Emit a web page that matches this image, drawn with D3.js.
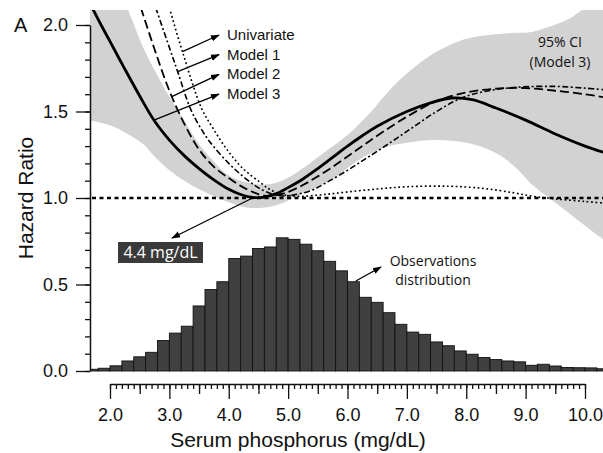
<!DOCTYPE html>
<html>
<head>
<meta charset="utf-8">
<script src="https://cdn.jsdelivr.net/npm/d3@7"></script>
<style>
body { margin: 0; background: #fff; }
svg text { font-family: "Liberation Sans", Arial, sans-serif; fill: #111; }
svg text.note { font-family: "Open Sans", sans-serif; }
</style>
</head>
<body>
<svg width="603" height="453"></svg>
<script>
// observations histogram: bin left edges (mg/dL) and bar height on the HR scale
var binLo = [1.6, 1.8, 2.0, 2.2, 2.4, 2.6, 2.8, 3.0, 3.2, 3.4, 3.6, 3.8, 4.0, 4.2, 4.4,
             4.6, 4.8, 5.0, 5.2, 5.4, 5.6, 5.8, 6.0, 6.2, 6.4, 6.6, 6.8, 7.0, 7.2, 7.4,
             7.6, 7.8, 8.0, 8.2, 8.4, 8.6, 8.8, 9.0, 9.2, 9.4, 9.6, 9.8, 10.0, 10.2];
var binH  = [0.010, 0.016, 0.030, 0.058, 0.082, 0.108, 0.176, 0.219, 0.259, 0.376, 0.471, 0.516,
             0.650, 0.664, 0.708, 0.717, 0.770, 0.761, 0.733, 0.695, 0.634, 0.579, 0.516, 0.426,
             0.397, 0.337, 0.270, 0.225, 0.212, 0.168, 0.146, 0.116, 0.097, 0.078, 0.066, 0.058,
             0.053, 0.033, 0.039, 0.029, 0.020, 0.019, 0.018, 0.013];
var binW = 0.2;

// Model 3 (solid)
var m3X  = [1.70, 1.85, 2.00, 2.25, 2.50, 2.75, 3.00, 3.25, 3.50, 3.75, 4.00, 4.20, 4.40, 4.60, 4.80,
            5.00, 5.25, 5.50, 5.75, 6.00, 6.25, 6.50, 7.00, 7.40, 7.75, 8.10, 8.50, 9.00, 9.50, 10.00, 10.35];
var m3HR = [2.10, 2.00, 1.905, 1.745, 1.59, 1.445, 1.335, 1.245, 1.17, 1.105, 1.05, 1.02, 1.003, 1.005, 1.025,
            1.06, 1.11, 1.17, 1.235, 1.30, 1.36, 1.415, 1.50, 1.55, 1.578, 1.568, 1.52, 1.45, 1.37, 1.30, 1.26];

// Model 2 (long dashes)
var m2X  = [2.52, 2.75, 3.00, 3.25, 3.50, 3.75, 4.00, 4.20, 4.40, 4.60, 4.80, 5.00, 5.25, 5.50, 5.75,
            6.00, 6.25, 6.50, 7.00, 7.50, 8.00, 8.50, 9.00, 9.50, 10.00, 10.35];
var m2HR = [2.10, 1.86, 1.62, 1.43, 1.28, 1.18, 1.115, 1.07, 1.035, 1.013, 1.015, 1.035, 1.075, 1.125, 1.18,
            1.24, 1.30, 1.36, 1.47, 1.56, 1.61, 1.632, 1.635, 1.62, 1.60, 1.58];

// Model 1 (dash-dot)
var m1X  = [2.77, 3.00, 3.14, 3.35, 3.50, 3.68, 4.00, 4.24, 4.45, 4.64, 4.90, 5.10, 5.40, 5.65, 6.00,
            6.25, 6.50, 7.00, 7.50, 7.90, 8.30, 8.85, 9.50, 10.00, 10.35];
var m1HR = [2.10, 1.87, 1.73, 1.52, 1.42, 1.325, 1.20, 1.125, 1.07, 1.035, 1.012, 1.018, 1.045, 1.09, 1.16,
            1.215, 1.27, 1.385, 1.50, 1.575, 1.615, 1.64, 1.645, 1.635, 1.625];

// Univariate (dotted)
var uvX  = [3.00, 3.22, 3.54, 3.74, 3.97, 4.24, 4.53, 4.69, 4.91, 5.20, 5.60, 6.00, 6.50, 7.00, 7.70,
            8.30, 8.80, 9.12, 9.50, 10.00, 10.35];
var uvHR = [2.10, 1.846, 1.52, 1.40, 1.28, 1.17, 1.09, 1.05, 1.02, 1.01, 1.02, 1.035, 1.052, 1.065, 1.068,
            1.055, 1.03, 1.01, 0.995, 0.98, 0.97];

// 95% CI of Model 3
var ciX  = [1.66, 2.00, 2.30, 2.56, 2.75, 3.00, 3.25, 3.50, 3.75, 4.00, 4.30, 4.60, 4.90, 5.20, 5.50,
            5.80, 6.10, 6.40, 6.70, 7.00, 7.50, 8.00, 8.30, 8.60, 8.85, 9.10, 9.40, 9.70, 10.00, 10.35];
var ciHi = [2.55, 2.32, 2.09, 1.87, 1.74, 1.585, 1.45, 1.31, 1.21, 1.13, 1.09, 1.078, 1.10, 1.16, 1.235,
            1.31, 1.395, 1.50, 1.62, 1.72, 1.845, 1.92, 1.94, 1.95, 1.955, 1.96, 1.99, 2.03, 2.10, 2.20];
var ciLo = [1.45, 1.42, 1.37, 1.31, 1.24, 1.16, 1.10, 1.05, 1.01, 0.975, 0.945, 0.945, 0.97, 1.02, 1.065,
            1.12, 1.20, 1.26, 1.30, 1.32, 1.335, 1.32, 1.29, 1.24, 1.17, 1.08, 1.00, 0.92, 0.84, 0.75];

var xTicks = [2, 3, 4, 5, 6, 7, 8, 9, 10];
var xHalf = [2.5, 3.5, 4.5, 5.5, 6.5, 7.5, 8.5, 9.5];
var yTicks = [0, 0.5, 1, 1.5, 2];

var svg = d3.select("svg");
var x = d3.scaleLinear().domain([2, 10]).range([110, 585]);
var y = d3.scaleLinear().domain([0, 2]).range([371, 25]);
var plotL = 90, plotT = 10, plotR = 603;

var defs = svg.append("defs");
defs.append("clipPath").attr("id", "plot")
    .append("rect").attr("x", plotL).attr("y", plotT)
    .attr("width", plotR - plotL).attr("height", y(0) - plotT + 1);
defs.append("marker").attr("id", "ah")
    .attr("viewBox", "0 0 10 10").attr("refX", 9).attr("refY", 5)
    .attr("markerWidth", 9).attr("markerHeight", 9)
    .attr("markerUnits", "userSpaceOnUse").attr("orient", "auto")
    .append("path").attr("d", "M0,1.5L10,5L0,8.5Z").attr("fill", "#000");

var plot = svg.append("g").attr("clip-path", "url(#plot)");

// CI band
var band = ciX.map(function (d, i) { return [d, ciLo[i], ciHi[i]]; });
plot.append("path")
    .datum(band)
    .attr("fill", "#d2d2d2")
    .attr("d", d3.area()
        .x(function (d) { return x(d[0]); })
        .y0(function (d) { return y(d[1]); })
        .y1(function (d) { return y(d[2]); })
        .curve(d3.curveCatmullRom));

// histogram
plot.selectAll("rect.bar")
    .data(binLo)
    .enter()
    .append("rect")
    .attr("class", "bar")
    .attr("x", function (d) { return x(d); })
    .attr("width", function (d) { return x(d + binW) - x(d); })
    .attr("y", function (d, i) { return y(binH[i]); })
    .attr("height", function (d, i) { return y(0) - y(binH[i]); })
    .attr("fill", "#404040")
    .attr("stroke", "#111")
    .attr("stroke-width", 0.9);

// reference line HR = 1
plot.append("line")
    .attr("x1", plotL + 2).attr("x2", plotR)
    .attr("y1", y(1)).attr("y2", y(1))
    .attr("stroke", "#000").attr("stroke-width", 2.6)
    .attr("stroke-dasharray", "4,3.5");

var line = d3.line()
    .x(function (d) { return x(d[0]); })
    .y(function (d) { return y(d[1]); })
    .curve(d3.curveCatmullRom);

function curve(xs, hs, width, dash) {
    plot.append("path")
        .datum(xs.map(function (d, i) { return [d, hs[i]]; }))
        .attr("fill", "none")
        .attr("stroke", "#000")
        .attr("stroke-width", width)
        .attr("stroke-dasharray", dash)
        .attr("d", line);
}
curve(uvX, uvHR, 1.6, "1.8,2.6");
curve(m1X, m1HR, 1.6, "6,2.5,2,2.5");
curve(m2X, m2HR, 1.8, "9,4");
curve(m3X, m3HR, 2.8, null);

// axes
function styleAxis(g) {
    g.selectAll(".domain").attr("stroke", "#111").attr("stroke-width", 1.5);
    g.selectAll(".tick line").attr("stroke", "#111").attr("stroke-width", 1.3);
    g.selectAll(".tick text").attr("font-size", "18px").attr("fill", "#111");
}

var xMinor = d3.range(20, 101).map(function (d) { return d / 10; });
svg.append("g").attr("transform", "translate(0,384)")
    .call(d3.axisBottom(x).tickValues(xMinor).tickSize(5).tickFormat(""))
    .call(function (g) { g.select(".domain").remove(); })
    .call(styleAxis);
svg.append("g").attr("transform", "translate(0,384)")
    .call(d3.axisBottom(x).tickValues(xHalf).tickSize(10).tickFormat(""))
    .call(function (g) { g.select(".domain").remove(); })
    .call(styleAxis);
svg.append("g").attr("transform", "translate(0,384)")
    .call(d3.axisBottom(x).tickValues(xTicks).tickSize(15).tickSizeOuter(0)
        .tickPadding(9).tickFormat(d3.format(".1f")))
    .call(styleAxis);

var yMinor = d3.range(0, 21).map(function (d) { return d / 10; });
svg.append("g").attr("transform", "translate(" + plotL + ",0)")
    .call(d3.axisLeft(y).tickValues(yMinor).tickSize(5).tickFormat(""))
    .call(function (g) { g.select(".domain").remove(); })
    .call(styleAxis);
svg.append("g").attr("transform", "translate(" + plotL + ",0)")
    .call(d3.axisLeft(y).tickValues(yTicks).tickSize(14).tickSizeOuter(0)
        .tickPadding(8).tickFormat(d3.format(".1f")))
    .call(styleAxis);

// titles
svg.append("text")
    .attr("x", 298).attr("y", 447)
    .attr("text-anchor", "middle").attr("font-size", "21px")
    .text("Serum phosphorus (mg/dL)");
svg.append("text")
    .attr("transform", "translate(33," + y(1) + ") rotate(-90)")
    .attr("text-anchor", "middle").attr("font-size", "21px")
    .text("Hazard Ratio");
svg.append("text")
    .attr("x", 14).attr("y", 32).attr("font-size", "20px")
    .text("A");

// legend arrows, tail on each curve
var legendNames = ["Univariate", "Model 1", "Model 2", "Model 3"];
var legendTail = [[3.22, 1.846], [3.14, 1.73], [3.04, 1.586], [2.74, 1.45]];
legendNames.forEach(function (name, i) {
    var hy = 35 + i * 19.7;
    svg.append("line")
        .attr("x1", x(legendTail[i][0])).attr("y1", y(legendTail[i][1]))
        .attr("x2", 219).attr("y2", hy)
        .attr("stroke", "#000").attr("stroke-width", 1.3)
        .attr("marker-end", "url(#ah)");
    svg.append("text")
        .attr("x", 227).attr("y", hy + 5)
        .attr("font-size", "15px")
        .text(name);
});

// 95% CI label
svg.append("text").attr("class", "note")
    .attr("x", 560).attr("y", 47).attr("text-anchor", "middle").attr("font-size", "14px")
    .text("95% CI");
svg.append("text").attr("class", "note")
    .attr("x", 560).attr("y", 67).attr("text-anchor", "middle").attr("font-size", "14px")
    .text("(Model 3)");

// nadir marker
svg.append("line")
    .attr("x1", x(4.4)).attr("y1", y(1))
    .attr("x2", 172).attr("y2", 238)
    .attr("stroke", "#000").attr("stroke-width", 1.3)
    .attr("marker-end", "url(#ah)");
svg.append("rect")
    .attr("x", 118).attr("y", 242).attr("width", 85).attr("height", 21)
    .attr("fill", "#3a3a3a");
svg.append("text").attr("class", "note")
    .attr("x", 160.5).attr("y", 258).attr("text-anchor", "middle")
    .attr("font-size", "16px").style("fill", "#fff")
    .text("4.4 mg/dL");

// observations label
svg.append("line")
    .attr("x1", x(6.14)).attr("y1", y(0.52))
    .attr("x2", 381).attr("y2", 267)
    .attr("stroke", "#000").attr("stroke-width", 1.3)
    .attr("marker-end", "url(#ah)");
svg.append("text").attr("class", "note")
    .attr("x", 433).attr("y", 266).attr("text-anchor", "middle").attr("font-size", "14px")
    .text("Observations");
svg.append("text").attr("class", "note")
    .attr("x", 433).attr("y", 285).attr("text-anchor", "middle").attr("font-size", "14px")
    .text("distribution");
</script>
</body>
</html>
